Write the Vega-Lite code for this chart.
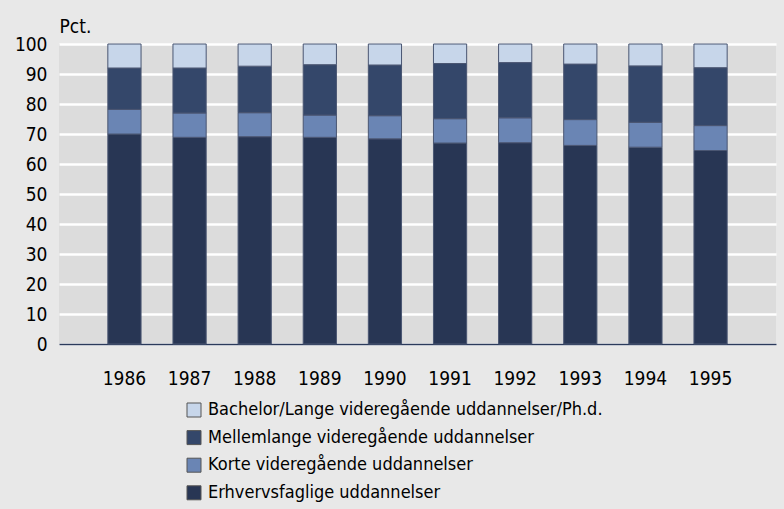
{
  "$schema": "https://vega.github.io/schema/vega-lite/v6.json",
  "autosize": {"type": "none"},
  "padding": {"left": 59, "top": 44, "right": 8, "bottom": 165},
  "width": 717,
  "height": 300,
  "background": "#e8e8e8",
  "config": {
    "font": "DejaVu Sans Condensed",
    "view": {"stroke": null, "fill": "#dcdcdc"}
  },
  "data": {
    "values": [
      {"year": "1986", "cat": "Erhvervsfaglige uddannelser", "rank": 1, "value": 70.0},
      {"year": "1986", "cat": "Korte videregående uddannelser", "rank": 2, "value": 8.2},
      {"year": "1986", "cat": "Mellemlange videregående uddannelser", "rank": 3, "value": 13.8},
      {"year": "1986", "cat": "Bachelor/Lange videregående uddannelser/Ph.d.", "rank": 4, "value": 8.0},
      {"year": "1987", "cat": "Erhvervsfaglige uddannelser", "rank": 1, "value": 68.9},
      {"year": "1987", "cat": "Korte videregående uddannelser", "rank": 2, "value": 8.1},
      {"year": "1987", "cat": "Mellemlange videregående uddannelser", "rank": 3, "value": 15.0},
      {"year": "1987", "cat": "Bachelor/Lange videregående uddannelser/Ph.d.", "rank": 4, "value": 8.0},
      {"year": "1988", "cat": "Erhvervsfaglige uddannelser", "rank": 1, "value": 69.1},
      {"year": "1988", "cat": "Korte videregående uddannelser", "rank": 2, "value": 8.0},
      {"year": "1988", "cat": "Mellemlange videregående uddannelser", "rank": 3, "value": 15.5},
      {"year": "1988", "cat": "Bachelor/Lange videregående uddannelser/Ph.d.", "rank": 4, "value": 7.4},
      {"year": "1989", "cat": "Erhvervsfaglige uddannelser", "rank": 1, "value": 68.9},
      {"year": "1989", "cat": "Korte videregående uddannelser", "rank": 2, "value": 7.4},
      {"year": "1989", "cat": "Mellemlange videregående uddannelser", "rank": 3, "value": 16.8},
      {"year": "1989", "cat": "Bachelor/Lange videregående uddannelser/Ph.d.", "rank": 4, "value": 6.9},
      {"year": "1990", "cat": "Erhvervsfaglige uddannelser", "rank": 1, "value": 68.4},
      {"year": "1990", "cat": "Korte videregående uddannelser", "rank": 2, "value": 7.7},
      {"year": "1990", "cat": "Mellemlange videregående uddannelser", "rank": 3, "value": 16.9},
      {"year": "1990", "cat": "Bachelor/Lange videregående uddannelser/Ph.d.", "rank": 4, "value": 7.0},
      {"year": "1991", "cat": "Erhvervsfaglige uddannelser", "rank": 1, "value": 67.0},
      {"year": "1991", "cat": "Korte videregående uddannelser", "rank": 2, "value": 8.1},
      {"year": "1991", "cat": "Mellemlange videregående uddannelser", "rank": 3, "value": 18.4},
      {"year": "1991", "cat": "Bachelor/Lange videregående uddannelser/Ph.d.", "rank": 4, "value": 6.5},
      {"year": "1992", "cat": "Erhvervsfaglige uddannelser", "rank": 1, "value": 67.1},
      {"year": "1992", "cat": "Korte videregående uddannelser", "rank": 2, "value": 8.3},
      {"year": "1992", "cat": "Mellemlange videregående uddannelser", "rank": 3, "value": 18.4},
      {"year": "1992", "cat": "Bachelor/Lange videregående uddannelser/Ph.d.", "rank": 4, "value": 6.2},
      {"year": "1993", "cat": "Erhvervsfaglige uddannelser", "rank": 1, "value": 66.2},
      {"year": "1993", "cat": "Korte videregående uddannelser", "rank": 2, "value": 8.6},
      {"year": "1993", "cat": "Mellemlange videregående uddannelser", "rank": 3, "value": 18.5},
      {"year": "1993", "cat": "Bachelor/Lange videregående uddannelser/Ph.d.", "rank": 4, "value": 6.7},
      {"year": "1994", "cat": "Erhvervsfaglige uddannelser", "rank": 1, "value": 65.6},
      {"year": "1994", "cat": "Korte videregående uddannelser", "rank": 2, "value": 8.3},
      {"year": "1994", "cat": "Mellemlange videregående uddannelser", "rank": 3, "value": 18.8},
      {"year": "1994", "cat": "Bachelor/Lange videregående uddannelser/Ph.d.", "rank": 4, "value": 7.3},
      {"year": "1995", "cat": "Erhvervsfaglige uddannelser", "rank": 1, "value": 64.5},
      {"year": "1995", "cat": "Korte videregående uddannelser", "rank": 2, "value": 8.3},
      {"year": "1995", "cat": "Mellemlange videregående uddannelser", "rank": 3, "value": 19.3},
      {"year": "1995", "cat": "Bachelor/Lange videregående uddannelser/Ph.d.", "rank": 4, "value": 7.9}
    ]
  },
  "mark": {"type": "bar", "stroke": "#4a5672", "strokeWidth": 1},
  "encoding": {
    "x": {
      "field": "year",
      "type": "ordinal",
      "scale": {"paddingInner": 0.49, "paddingOuter": 0.75},
      "axis": {
        "title": null,
        "labelAngle": 0,
        "labelFontSize": 19,
        "labelColor": "#000000",
        "labelPadding": 25,
        "ticks": false,
        "domainColor": "#2b3a5b",
        "domainWidth": 1.5,
        "grid": false
      }
    },
    "y": {
      "field": "value",
      "type": "quantitative",
      "stack": "zero",
      "scale": {"domain": [0, 100], "nice": false},
      "axis": {
        "title": "Pct.",
        "titleAngle": 0,
        "titleX": 0,
        "titleY": -12,
        "titleAlign": "left",
        "titleBaseline": "alphabetic",
        "titleFontSize": 19,
        "titleFontWeight": "normal",
        "titleColor": "#000000",
        "values": [0, 10, 20, 30, 40, 50, 60, 70, 80, 90, 100],
        "labelFontSize": 19,
        "labelColor": "#000000",
        "labelPadding": 12,
        "ticks": false,
        "domain": false,
        "grid": true,
        "gridColor": "#ffffff",
        "gridWidth": 2.5
      }
    },
    "color": {
      "field": "cat",
      "type": "nominal",
      "scale": {
        "domain": [
          "Bachelor/Lange videregående uddannelser/Ph.d.",
          "Mellemlange videregående uddannelser",
          "Korte videregående uddannelser",
          "Erhvervsfaglige uddannelser"
        ],
        "range": ["#c7d6ea", "#34476a", "#6a85b4", "#283654"]
      },
      "legend": {
        "title": null,
        "orient": "none",
        "legendX": 126,
        "legendY": 357,
        "direction": "vertical",
        "symbolType": "square",
        "symbolSize": 196,
        "symbolStrokeColor": "#555555",
        "symbolStrokeWidth": 1,
        "labelFontSize": 18,
        "labelColor": "#000000",
        "labelOffset": 5,
        "labelLimit": 600,
        "rowPadding": 9.6
      }
    },
    "order": {"field": "rank", "type": "quantitative", "sort": "ascending"}
  }
}
